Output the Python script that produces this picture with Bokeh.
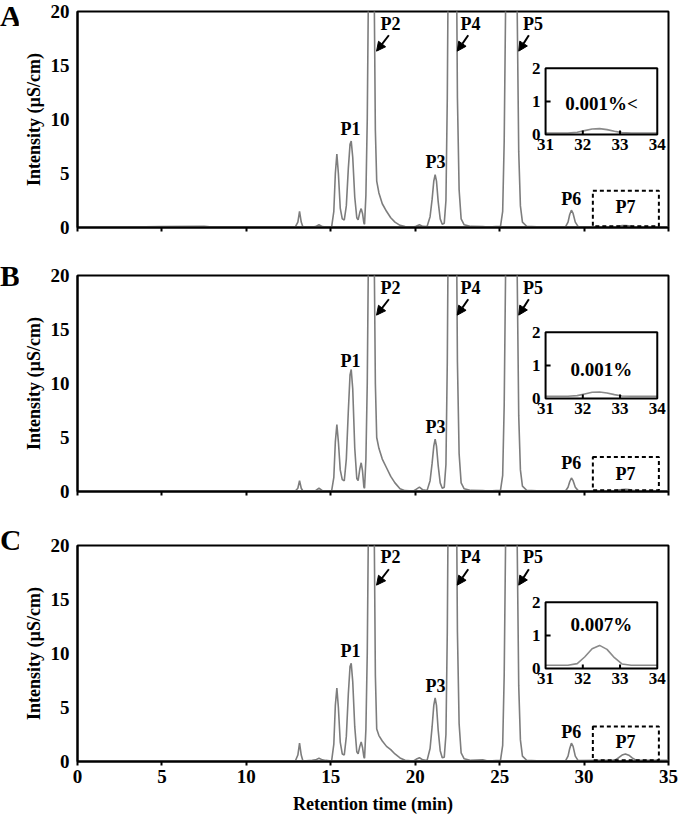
import numpy as np
from bokeh.plotting import figure
from bokeh.models import Range1d, FixedTicker, Arrow, NormalHead, Div
from bokeh.layouts import column, row
from bokeh.embed import file_html
from bokeh.resources import INLINE
from bokeh.core.properties import value

FONT = "Liberation Serif"

# ---------------- data ----------------
time_min = [3.0, 5.0, 7.5, 8.0, 12.9, 13.05, 13.15, 13.25, 13.35, 13.9, 14.1, 14.3, 14.5, 14.7,
            15.05, 15.18, 15.27, 15.36, 15.45, 15.56, 15.68, 15.8, 15.92, 16.04, 16.14, 16.21,
            16.3, 16.42, 16.54, 16.62, 16.72, 16.8, 16.88, 16.96, 17.0, 17.08, 17.16, 17.24,
            17.32, 17.4, 17.48, 17.56, 17.64, 17.72, 17.85, 18.05, 18.3, 18.55, 18.8, 19.1,
            19.4, 19.9, 20.05, 20.25, 20.45, 20.7, 20.88, 21.0, 21.1, 21.18, 21.26, 21.36,
            21.48, 21.6, 21.72, 21.82, 21.9, 21.98, 22.08, 22.2, 22.32, 22.42, 22.5, 22.6,
            22.72, 22.9, 23.3, 24.0, 24.3, 25.05, 25.18, 25.27, 25.35, 25.45, 25.7, 25.95,
            26.04, 26.13, 26.23, 26.35, 26.6, 27.5, 28.9, 29.05, 29.15, 29.25, 29.35, 29.48,
            29.65, 31.0, 31.6, 31.85, 32.05, 32.25, 32.45, 32.65, 32.85, 33.05, 33.3, 34.0, 35.0]

intensity_A = [0.05, 0.08, 0.1, 0.05, 0.05, 0.5, 1.5, 0.5, 0.05, 0.05, 0.08, 0.25, 0.08, 0.05,
               0.05, 1.5, 5.0, 6.8, 5.0, 1.8, 0.8, 0.7, 2.0, 5.5, 7.7, 8.0,
               6.5, 2.8, 0.9, 0.7, 1.4, 1.75, 1.3, 0.4, 0.3, 3.0, 10.0, 24.0,
               45.0, 60.0, 45.0, 24.0, 9.0, 4.3, 3.2, 2.2, 1.5, 0.9, 0.5, 0.2,
               0.08, 0.05, 0.12, 0.25, 0.1, 0.08, 1.0, 2.6, 4.3, 4.9, 4.3, 2.4,
               0.8, 0.3, 0.4, 2.5, 12.0, 30.0, 60.0, 80.0, 60.0, 30.0, 12.0, 3.5,
               0.8, 0.25, 0.1, 0.08, 0.05, 0.1, 1.5, 8.0, 20.0, 45.0, 90.0, 45.0,
               20.0, 7.0, 2.0, 0.5, 0.12, 0.05, 0.05, 0.5, 1.2, 1.6, 1.3, 0.5,
               0.08, 0.05, 0.05, 0.07, 0.12, 0.17, 0.18, 0.15, 0.1, 0.06, 0.05, 0.05, 0.05]

intensity_B = [0.05, 0.05, 0.05, 0.05, 0.05, 0.3, 1.0, 0.3, 0.05, 0.05, 0.08, 0.3, 0.08, 0.05,
               0.05, 1.3, 4.6, 6.2, 4.6, 2.0, 1.1, 1.0, 3.0, 7.5, 10.8, 11.3,
               9.5, 4.0, 1.2, 1.0, 2.1, 2.66, 1.9, 0.4, 0.3, 3.0, 10.0, 24.0,
               45.0, 60.0, 45.0, 24.0, 10.0, 5.0, 4.0, 3.0, 2.2, 1.4, 0.8, 0.25,
               0.08, 0.05, 0.2, 0.4, 0.15, 0.08, 1.0, 2.6, 4.2, 4.85, 4.2, 2.4,
               0.8, 0.3, 0.4, 2.5, 12.0, 30.0, 60.0, 80.0, 60.0, 30.0, 12.0, 3.5,
               0.8, 0.25, 0.1, 0.08, 0.05, 0.1, 1.5, 8.0, 20.0, 45.0, 90.0, 45.0,
               20.0, 7.0, 2.0, 0.5, 0.12, 0.05, 0.05, 0.4, 0.9, 1.25, 1.0, 0.4,
               0.08, 0.07, 0.07, 0.09, 0.14, 0.19, 0.2, 0.17, 0.12, 0.08, 0.07, 0.07, 0.07]

intensity_C = [0.05, 0.05, 0.05, 0.05, 0.05, 0.6, 1.7, 0.6, 0.05, 0.12, 0.15, 0.3, 0.15, 0.1,
               0.05, 1.6, 5.2, 6.8, 5.0, 1.8, 0.7, 0.6, 2.3, 6.3, 8.8, 9.1,
               7.4, 3.2, 0.9, 0.7, 1.4, 1.8, 1.3, 0.4, 0.3, 3.0, 10.0, 24.0,
               45.0, 60.0, 45.0, 24.0, 8.0, 3.0, 2.4, 1.9, 1.4, 1.1, 0.7, 0.33,
               0.12, 0.05, 0.2, 0.35, 0.15, 0.08, 1.2, 3.2, 5.2, 5.9, 5.2, 2.9,
               1.0, 0.35, 0.4, 2.5, 12.0, 30.0, 60.0, 80.0, 60.0, 30.0, 12.0, 3.5,
               0.8, 0.25, 0.1, 0.15, 0.05, 0.1, 1.5, 8.0, 20.0, 45.0, 90.0, 45.0,
               20.0, 7.0, 2.0, 0.5, 0.12, 0.05, 0.05, 0.5, 1.2, 1.7, 1.4, 0.5,
               0.08, 0.1, 0.1, 0.15, 0.35, 0.6, 0.7, 0.58, 0.33, 0.14, 0.1, 0.1, 0.1]

x_ticks = [0, 5, 10, 15, 20, 25, 30, 35]
y_ticks = [0, 5, 10, 15, 20]
inset_x_ticks = [31, 32, 33, 34]
inset_y_ticks = [0, 1, 2]

panel_letters = ["A", "B", "C"]
inset_texts = ["0.001%<", "0.001%", "0.007%"]
inset_text_y = [0.93, 0.89, 1.34]

peak_names = ["P1", "P2", "P3", "P4", "P5", "P6", "P7"]
peak_label_x = [16.17, 18.54, 21.2, 23.27, 26.97, 29.24, 32.45]
peak_label_y = [
    [9.1, 18.8, 6.05, 18.8, 18.8, 2.65, 1.87],
    [12.1, 18.8, 5.96, 18.8, 18.8, 2.6, 1.59],
    [10.2, 18.9, 7.0, 18.9, 18.9, 2.7, 1.77],
]
arrow_x_start = [18.44, 23.14, 26.73]
arrow_y_start = [17.8, 17.8, 17.8]
arrow_x_end = [17.71, 22.49, 26.13]
arrow_y_end = [16.33, 16.33, 16.33]

p7_left, p7_right, p7_bottom = 30.52, 34.43, 0.12
p7_top = [3.4, 3.2, 3.25]

# ---------------- layout ----------------
LETTER_W = 18
FRAME_W, FRAME_H = 591, 216
BORDER_L, BORDER_R = 59, 10
BORDER_TOPS = [11, 11, 11]
BOTTOMS = [37, 43, 10]
LETTER_SHIFT = [1, -3, -9]
INSET_FX = (0.792, 0.981)
INSET_FY = (0.43, 0.737)
TRACE_COLOR = "#7d7d7d"


def make_panel(i, intensity, last):
    p = figure(x_range=Range1d(0, 35), y_range=Range1d(0, 20),
               frame_width=FRAME_W, frame_height=FRAME_H,
               min_border_left=BORDER_L, min_border_right=BORDER_R,
               min_border_top=BORDER_TOPS[i], min_border_bottom=BOTTOMS[i],
               output_backend="svg", toolbar_location=None)
    p.grid.visible = False
    p.outline_line_color = "black"
    p.outline_line_width = 2
    p.background_fill_color = "white"
    p.border_fill_color = "white"

    # axes
    p.xaxis.ticker = FixedTicker(ticks=x_ticks)
    p.yaxis.ticker = FixedTicker(ticks=y_ticks)
    for ax in (p.xaxis, p.yaxis):
        ax.axis_line_width = 2
        ax.axis_line_color = "black"
        ax.major_tick_line_width = 2
        ax.major_tick_line_color = "black"
        ax.minor_tick_line_color = None
        ax.major_label_text_font = FONT
        ax.major_label_text_font_style = "bold"
        ax.major_label_text_font_size = "19px"
        ax.major_label_text_color = "black"
        ax.axis_label_text_font = FONT
        ax.axis_label_text_font_style = "bold"
        ax.axis_label_text_font_size = "18px"
        ax.axis_label_text_color = "black"
    p.xaxis.major_tick_out = 4
    p.xaxis.major_tick_in = 0
    p.xaxis.major_label_standoff = 4
    p.yaxis.major_tick_out = 0
    p.yaxis.major_tick_in = 0
    p.yaxis.major_label_standoff = 8
    p.yaxis.axis_label = "Intensity (µS/cm)"
    p.yaxis.axis_label_standoff = 4
    if last:
        p.xaxis.axis_label = "Retention time (min)"
        p.xaxis.axis_label_standoff = 8
    else:
        p.xaxis.major_label_overrides = {t: "" for t in x_ticks}

    # main trace
    p.line(time_min, intensity, line_color=TRACE_COLOR, line_width=1.6)

    # P7 dashed box
    p.quad(left=[p7_left], right=[p7_right], bottom=[p7_bottom], top=[p7_top[i]],
           fill_color=None, line_color="black", line_width=2, line_dash="4 3")

    # peak labels
    p.text(x=peak_label_x, y=peak_label_y[i], text=peak_names,
           text_font=value(FONT), text_font_style="bold", text_font_size="18px",
           text_align="center", text_baseline="middle", text_color="black")

    # arrows
    for xs, ys, xe, ye in zip(arrow_x_start, arrow_y_start, arrow_x_end, arrow_y_end):
        p.add_layout(Arrow(end=NormalHead(size=9, fill_color="black", line_color="black", line_width=1),
                           x_start=xs, y_start=ys, x_end=xe, y_end=ye,
                           line_width=2, line_color="black"))

    # inset via extra ranges mapped onto a sub-rectangle of the frame
    x0, x1 = inset_x_ticks[0], inset_x_ticks[-1]
    y0, y1 = inset_y_ticks[0], inset_y_ticks[-1]
    sx = (x1 - x0) / (INSET_FX[1] - INSET_FX[0])
    sy = (y1 - y0) / (INSET_FY[1] - INSET_FY[0])
    p.extra_x_ranges = {"inset": Range1d(x0 - INSET_FX[0] * sx, x0 + (1 - INSET_FX[0]) * sx)}
    p.extra_y_ranges = {"inset": Range1d(y0 - INSET_FY[0] * sy, y0 + (1 - INSET_FY[0]) * sy)}
    kw = dict(x_range_name="inset", y_range_name="inset")
    px_per_x = FRAME_W / sx
    px_per_y = FRAME_H / sy

    p.quad(left=[x0], right=[x1], bottom=[y0], top=[y1], fill_color="white",
           line_color=None, **kw)
    t = np.array(time_min)
    v = np.array(intensity)
    m = (t >= x0) & (t <= x1)
    p.line(t[m], v[m], line_color="#8a8a8a", line_width=1.6, **kw)
    p.quad(left=[x0], right=[x1], bottom=[y0], top=[y1], fill_color=None,
           line_color="black", line_width=2, **kw)
    bx = inset_x_ticks[1:-1]
    p.segment(x0=bx, y0=[y0] * len(bx), x1=bx, y1=[y0 + 4 / px_per_y] * len(bx),
              line_color="black", line_width=2, **kw)
    ly = inset_y_ticks[1:-1]
    p.segment(x0=[x0] * len(ly), y0=ly, x1=[x0 + 5 / px_per_x] * len(ly), y1=ly,
              line_color="black", line_width=2, **kw)
    p.text(x=inset_x_ticks, y=[y0] * len(inset_x_ticks), text=[str(v_) for v_ in inset_x_ticks],
           text_font=value(FONT), text_font_style="bold", text_font_size="17px",
           text_align="center", text_baseline="top", y_offset=4, text_color="black", **kw)
    p.text(x=[x0] * len(inset_y_ticks), y=inset_y_ticks, text=[str(v_) for v_ in inset_y_ticks],
           text_font=value(FONT), text_font_style="bold", text_font_size="17px",
           text_align="right", text_baseline="middle", x_offset=-5, text_color="black", **kw)
    p.text(x=[(x0 + x1) / 2], y=[inset_text_y[i]], text=[inset_texts[i]],
           text_font=value(FONT), text_font_style="bold", text_font_size="19px",
           text_align="center", text_baseline="middle", text_color="black", **kw)

    letter = Div(text=('<div style="font-family: \'Liberation Serif\'; font-weight: bold; '
                       'font-size: 30px; line-height: 1; position: relative; top: %dpx; '
                       'color: black; white-space: nowrap;">%s</div>') % (LETTER_SHIFT[i], panel_letters[i]),
                 width=LETTER_W, height=40, margin=0,
                 styles={"overflow": "visible"})
    return row(letter, p, spacing=0)


panels = [make_panel(0, intensity_A, False),
          make_panel(1, intensity_B, False),
          make_panel(2, intensity_C, True)]
layout = column(*panels, spacing=0)

open("out.html", "w").write(file_html(layout, INLINE))
